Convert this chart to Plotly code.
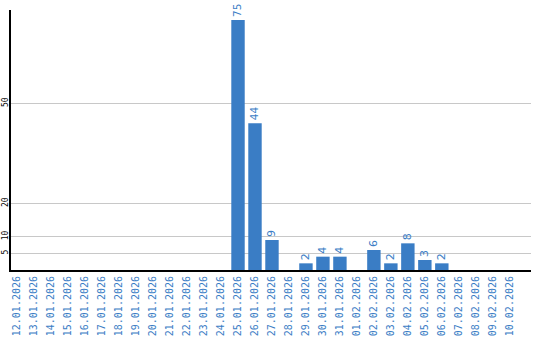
import plotly.graph_objects as go

dates = ["12.01.2026","13.01.2026","14.01.2026","15.01.2026","16.01.2026","17.01.2026",
         "18.01.2026","19.01.2026","20.01.2026","21.01.2026","22.01.2026","23.01.2026",
         "24.01.2026","25.01.2026","26.01.2026","27.01.2026","28.01.2026","29.01.2026",
         "30.01.2026","31.01.2026","01.02.2026","02.02.2026","03.02.2026","04.02.2026",
         "05.02.2026","06.02.2026","07.02.2026","08.02.2026","09.02.2026","10.02.2026"]
values = [0,0,0,0,0,0,0,0,0,0,0,0,0,75,44,9,0,2,4,4,0,6,2,8,3,2,0,0,0,0]
ytickvals = [5, 10, 20, 50]

blue = "#3a7dc5"
labels = [str(v) if v else "" for v in values]

fig = go.Figure(go.Bar(
    x=dates, y=values, text=labels, textposition="outside", textangle=-90,
    textfont=dict(color=blue, size=11, family="DejaVu Sans"),
    marker=dict(color=blue, line=dict(width=0)), width=0.79, cliponaxis=False,
))
fig.update_layout(
    width=540, height=340, margin=dict(l=11, r=9, t=10, b=70),
    paper_bgcolor="white", plot_bgcolor="white", showlegend=False,
)
fig.update_xaxes(type="category", range=[-0.365, 30.25], tickangle=-90, automargin=False,
                 tickfont=dict(family="DejaVu Sans Mono", size=10, color=blue),
                 showline=True, linecolor="black", linewidth=2, showgrid=False,
                 ticks="", ticklen=0)
fig.update_yaxes(range=[0, 78], tickvals=ytickvals, ticktext=[str(v) for v in ytickvals],
                 tickangle=-90, automargin=False, ticklabelstandoff=-2,
                 tickfont=dict(family="DejaVu Sans Mono", size=8, color="black"),
                 showline=True, linecolor="black", linewidth=2, showgrid=True,
                 gridcolor="#c8c8c8", gridwidth=1, zeroline=False, ticks="")
fig.write_html("out.html")
